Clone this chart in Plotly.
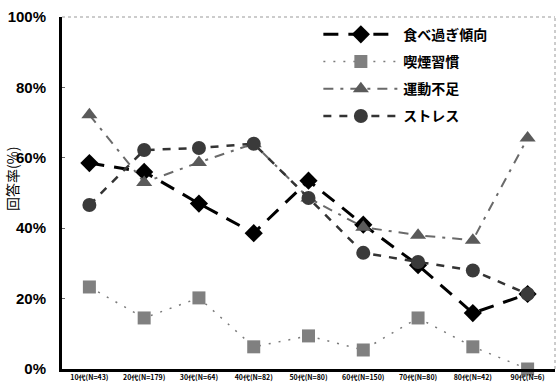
import plotly.graph_objects as go

categories = ["10代(N=43)", "20代(N=179)", "30代(N=64)", "40代(N=82)", "50代(N=80)",
              "60代(N=150)", "70代(N=80)", "80代(N=42)", "90代(N=6)"]
overeating = [58.5, 56.0, 47.0, 38.6, 53.5, 41.0, 29.5, 15.9, 21.3]
smoking = [23.3, 14.5, 20.2, 6.3, 9.4, 5.4, 14.5, 6.3, 0.0]
no_exercise = [72.2, 53.0, 58.7, 64.0, 48.6, 40.3, 38.0, 36.6, 65.6]
stress = [46.6, 62.2, 62.8, 64.0, 48.6, 33.0, 30.4, 28.0, 21.3]

series_names = ["食べ過ぎ傾向", "喫煙習慣", "運動不足", "ストレス"]
y_ticks = [0, 20, 40, 60, 80, 100]
y_tick_labels = ["0%", "20%", "40%", "60%", "80%", "100%"]

jp_font = "Noto Sans CJK JP"

fig = go.Figure()
fig.add_trace(go.Scatter(
    x=categories, y=overeating, name=series_names[0], mode="lines+markers", legendgroup="a",
    line=dict(color="#000000", width=3, dash="15px,10px"),
    marker=dict(symbol="diamond", size=14, color="#000000"), cliponaxis=False))
fig.add_trace(go.Scatter(
    x=categories, y=smoking, name=series_names[1], mode="lines+markers", legendgroup="b",
    line=dict(color="#7a7a7a", width=1.5, dash="2px,8px"),
    marker=dict(symbol="square", size=13, color="#808080"), cliponaxis=False))
fig.add_trace(go.Scatter(
    x=categories, y=no_exercise, name=series_names[2], mode="lines+markers", legendgroup="c",
    line=dict(color="#6a6a6a", width=2, dash="10px,7px,3px,7px"),
    marker=dict(symbol="triangle-up", size=14, color="#5a5a5a"), cliponaxis=False))
fig.add_trace(go.Scatter(
    x=categories, y=stress, name=series_names[3], mode="lines+markers", legendgroup="d",
    line=dict(color="#333333", width=2.5, dash="8px,8px"),
    marker=dict(symbol="circle", size=14, color="#3a3a3a"), cliponaxis=False))

fig.update_layout(
    width=557, height=390,
    margin=dict(l=62, r=2, t=17, b=21),
    paper_bgcolor="white", plot_bgcolor="white",
    showlegend=True,
    legend=dict(x=0.52, y=0.995, xanchor="left", yanchor="top",
                bgcolor="rgba(0,0,0,0)", itemwidth=75,
                font=dict(family=jp_font, size=14, color="#000000", weight="bold"),
                tracegroupgap=6),
    xaxis=dict(type="category", range=[-0.5, 8.5], showgrid=False,
               showline=True, linecolor="#000000", linewidth=3,
               ticks="", tickfont=dict(family=jp_font, size=7, color="#000000", weight="bold")),
    yaxis=dict(range=[0, 100], tickvals=y_ticks, ticktext=y_tick_labels,
               showgrid=False, zeroline=False, showline=True, linecolor="#000000",
               linewidth=3, ticks="inside", ticklen=3, tickcolor="#666666",
               ticklabelstandoff=10,
               tickfont=dict(family="Liberation Sans", size=15, color="#000000", weight="bold")),
    shapes=[dict(type="line", xref="paper", yref="paper", x0=0, x1=1, y0=1, y1=1,
                 line=dict(color="#999999", width=1, dash="dot")),
            dict(type="line", xref="paper", yref="paper", x0=1, x1=1, y0=0, y1=1,
                 line=dict(color="#999999", width=1, dash="dot"))],
    annotations=[dict(text="回答率(%)", xref="paper", yref="paper", x=0, y=0.54,
                      xanchor="center", yanchor="middle", xshift=-50, textangle=-90,
                      showarrow=False, font=dict(family=jp_font, size=14, color="#000000"))],
)

fig.write_html("out.html")
